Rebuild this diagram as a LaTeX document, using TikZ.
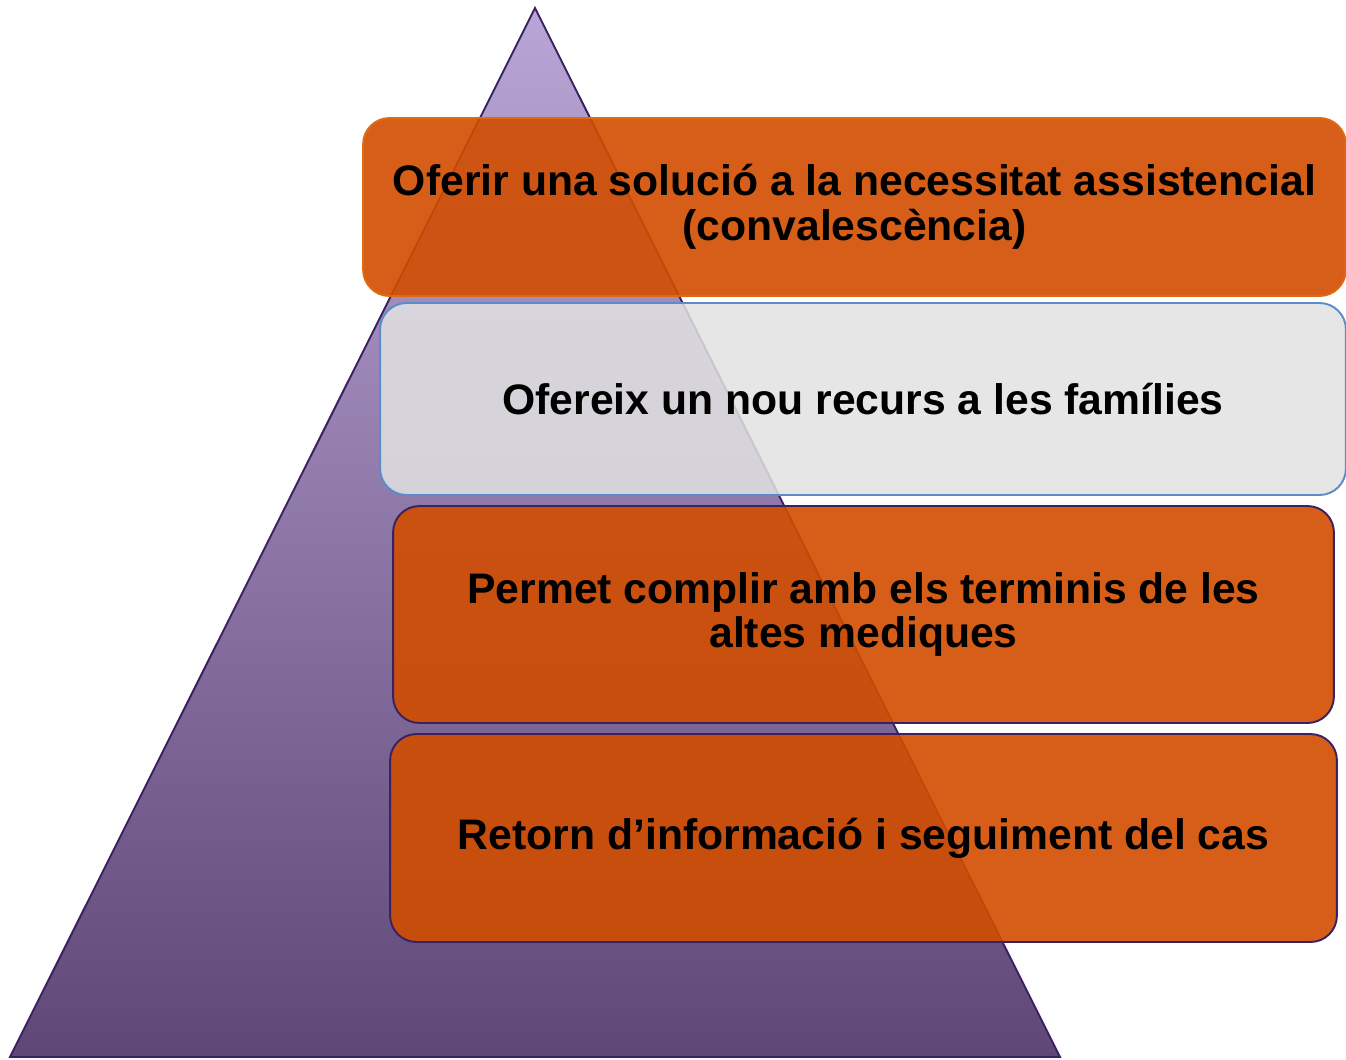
\documentclass[tikz,border=0pt]{standalone}
\usepackage{fontspec}
\setmainfont{Liberation Sans}
\definecolor{pyrtop}{HTML}{BAA6D6}
\definecolor{pyrbot}{HTML}{5E4878}
\definecolor{pyrline}{HTML}{3A2160}
\definecolor{boxorange}{HTML}{D14D00}
\definecolor{boxedge}{HTML}{E06A10}
\definecolor{boxgray}{HTML}{E2E2E2}
\definecolor{grayedge}{HTML}{5B8CC8}
\tikzset{
  levelbox/.style={rounded corners=15pt, line width=1.1pt, inner sep=0pt,
    align=center, font=\bfseries\fontsize{24.3}{25.5}\selectfont},
  orangebox/.style={levelbox, fill=boxorange, fill opacity=0.9, text opacity=1, draw=pyrline},
}

\begin{document}
\begin{tikzpicture}[x=0.02cm,y=-0.02cm]
        \useasboundingbox (0,0) rectangle (1346,1059);

        % Pyramid
        \draw[pyrline, line width=1.1pt, top color=pyrtop, bottom color=pyrbot]
            (535,8) -- (1060,1057) -- (10,1057) -- cycle;

        % Level 1
        \node[orangebox, draw=boxedge, minimum width=19.66cm, minimum height=3.56cm]
            (solucio) at (854.5,207) {Oferir una solució a la necessitat assistencial\\(convalescència)};

        % Level 2
        \node[levelbox, fill=boxgray, fill opacity=0.85, text opacity=1, draw=grayedge,
            minimum width=19.32cm, minimum height=3.84cm]
            (recurs) at (863,399) {Ofereix un nou recurs a les famílies};

        % Level 3
        \node[orangebox, minimum width=18.82cm, minimum height=4.34cm]
            (terminis) at (863.5,614.5) {Permet complir amb els terminis de les\\altes mediques};

        % Level 4
        \node[orangebox, minimum width=18.94cm, minimum height=4.16cm]
            (seguiment) at (863.5,838) {Retorn d’informació i seguiment del cas};
    \end{tikzpicture}
\end{document}
